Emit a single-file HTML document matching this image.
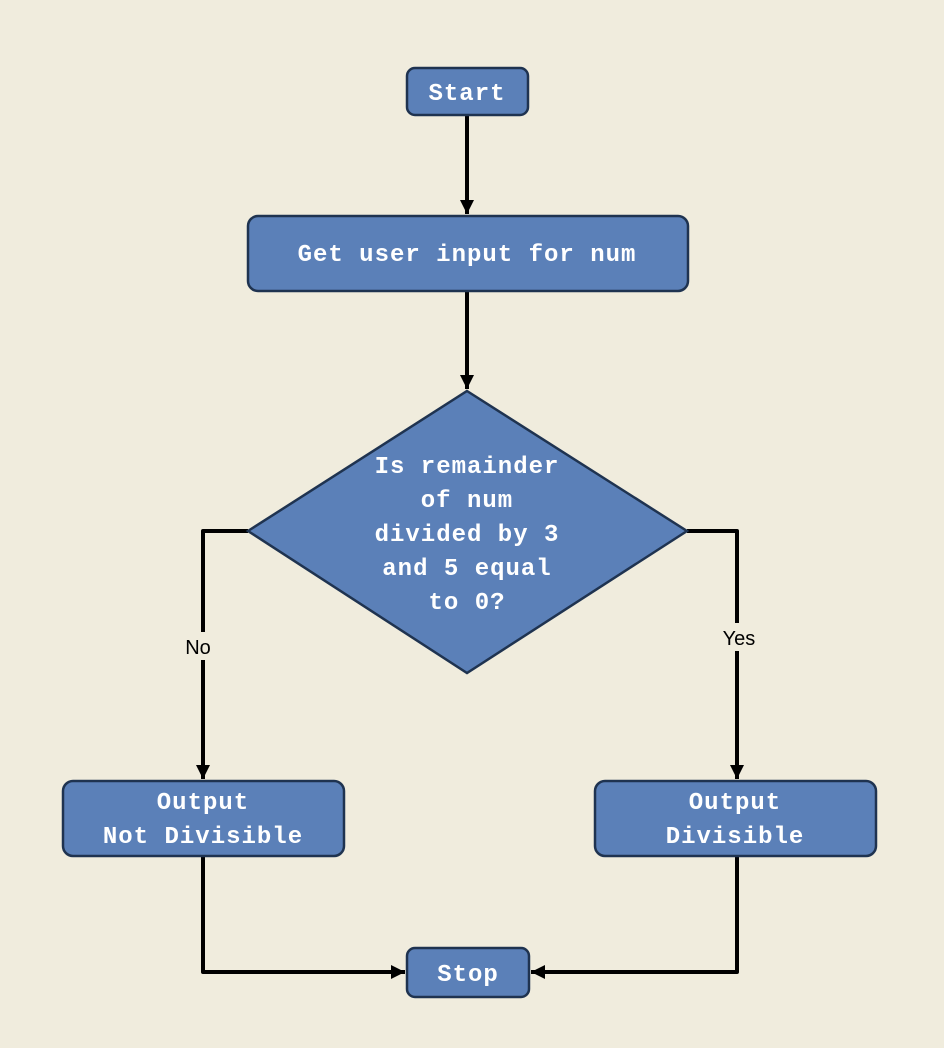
<!DOCTYPE html>
<html><head><style>
html,body{margin:0;padding:0;background:#f0ecdd;}
svg{display:block}
.t{font-family:"Liberation Mono","DejaVu Sans Mono",monospace;font-size:24px;fill:#fff;text-anchor:middle;letter-spacing:1px;font-weight:bold}
.l{font-family:"Liberation Sans",sans-serif;font-size:20px;fill:#000;text-anchor:middle}
</style></head><body>
<svg width="944" height="1048" viewBox="0 0 944 1048" xmlns="http://www.w3.org/2000/svg">
<defs><marker id="a" markerWidth="10" markerHeight="10" refX="9" refY="5" orient="auto" markerUnits="userSpaceOnUse" viewBox="0 0 10 10"><path d="M0,0L10,5L0,10z" fill="#000"/></marker>
<marker id="b" markerWidth="14" markerHeight="14" refX="14" refY="7" orient="auto" markerUnits="userSpaceOnUse" viewBox="0 0 14 14"><path d="M0,0L14,7L0,14z" fill="#000"/></marker></defs>
<rect width="944" height="1048" fill="#f0ecdd"/>
<g stroke="#000" stroke-width="4" fill="none" stroke-linejoin="round">
<path d="M467 115V214" marker-end="url(#b)"/>
<path d="M467 291V389" marker-end="url(#b)"/>
<path d="M248 531H203V779" marker-end="url(#b)"/>
<path d="M687 531H737V779" marker-end="url(#b)"/>
<path d="M203 856V972H405" marker-end="url(#b)"/>
<path d="M737 856V972H531" marker-end="url(#b)"/>
</g>
<g fill="#5b80b8" stroke="#1f3350" stroke-width="2.5">
<rect x="407" y="68" width="121" height="47" rx="8"/>
<rect x="248" y="216" width="440" height="75" rx="10"/>
<path d="M467 391L687 531L467 673L248 531Z"/>
<rect x="63" y="781" width="281" height="75" rx="10"/>
<rect x="595" y="781" width="281" height="75" rx="10"/>
<rect x="407" y="948" width="122" height="49" rx="8"/>
</g>
<rect x="180" y="632" width="38" height="28" fill="#f0ecdd"/>
<rect x="716" y="623" width="44" height="28" fill="#f0ecdd"/>
<text class="l" x="198" y="654">No</text>
<text class="l" x="739" y="645">Yes</text>
<text class="t" x="467" y="100">Start</text>
<text class="t" x="467" y="261">Get user input for num</text>
<text class="t" x="467" y="473">Is remainder</text>
<text class="t" x="467" y="507">of num</text>
<text class="t" x="467" y="541">divided by 3</text>
<text class="t" x="467" y="575">and 5 equal</text>
<text class="t" x="467" y="609">to 0?</text>
<text class="t" x="203" y="809">Output</text>
<text class="t" x="203" y="843">Not Divisible</text>
<text class="t" x="735" y="809">Output</text>
<text class="t" x="735" y="843">Divisible</text>
<text class="t" x="468" y="981">Stop</text>
</svg>
</body></html>
